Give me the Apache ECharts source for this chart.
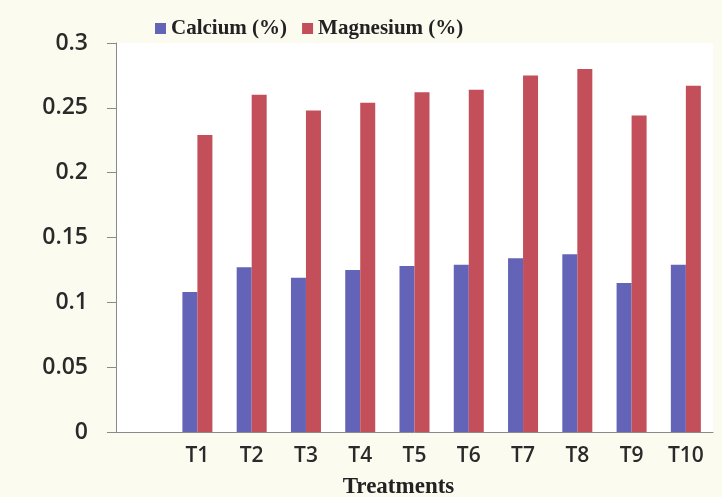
<!DOCTYPE html>
<html>
<head>
<meta charset="utf-8">
<script src="https://cdn.jsdelivr.net/npm/echarts@6/dist/echarts.min.js"></script>
<style>
  html, body { margin: 0; padding: 0; background: #fcfbf0; }
  #chart { width: 722px; height: 497px; }
</style>
</head>
<body>
<div id="chart"></div>
<script>
// Treatment categories (leading blank slot keeps the empty first column)
const categories = ['', 'T1', 'T2', 'T3', 'T4', 'T5', 'T6', 'T7', 'T8', 'T9', 'T10'];
// Nutrient content per treatment
const calcium = [null, 0.108, 0.127, 0.119, 0.125, 0.128, 0.129, 0.134, 0.137, 0.115, 0.129];
const magnesium = [null, 0.229, 0.260, 0.248, 0.254, 0.262, 0.264, 0.275, 0.280, 0.244, 0.267];
const yTicks = [0, 0.05, 0.1, 0.15, 0.2, 0.25, 0.3];

const chart = echarts.init(document.getElementById('chart'));
const sans = '"Open Sans", "DejaVu Sans", sans-serif';
const serif = '"Liberation Serif", "DejaVu Serif", serif';

chart.setOption({
  backgroundColor: '#fcfbf0',
  animation: false,
  legend: {
    top: 13,
    left: 150,
    itemWidth: 11,
    itemHeight: 11,
    itemGap: 15,
    icon: 'rect',
    textStyle: { fontFamily: serif, fontWeight: 'bold', fontSize: 21, color: '#222' },
    data: ['Calcium (%)', 'Magnesium (%)']
  },
  grid: {
    left: 116, right: 9, top: 43, bottom: 65,
    outerBoundsMode: 'none',
    show: true, backgroundColor: '#ffffff', borderWidth: 0
  },
  xAxis: {
    type: 'category',
    data: categories,
    name: 'Treatments',
    nameLocation: 'middle',
    nameGap: 44,
    nameTextStyle: { fontFamily: serif, fontWeight: 'bold', fontSize: 23, color: '#222', padding: [0, 32, 0, 0] },
    axisLine: { lineStyle: { color: '#8a8a8a', width: 1 } },
    axisTick: { show: false },
    axisLabel: { fontFamily: sans, fontWeight: 600, fontSize: 21, color: '#2a2a2a', margin: 14 }
  },
  yAxis: {
    type: 'value',
    min: 0,
    max: 0.3,
    interval: 0.05,
    axisLine: { show: true, lineStyle: { color: '#8a8a8a', width: 1 } },
    axisTick: { show: true, length: 9, lineStyle: { color: '#8a8a8a' } },
    splitLine: { show: false },
    axisLabel: {
      fontFamily: sans, fontWeight: 600, fontSize: 23, color: '#2a2a2a', margin: 28,
      formatter: v => {
        const t = yTicks.find(k => Math.abs(k - v) < 1e-9);
        return t === undefined ? '' : String(t);
      }
    }
  },
  series: [
    {
      name: 'Calcium (%)',
      type: 'bar',
      data: calcium,
      barWidth: 15,
      barGap: '0%',
      itemStyle: { color: '#6363b8' }
    },
    {
      name: 'Magnesium (%)',
      type: 'bar',
      data: magnesium,
      barWidth: 15,
      barGap: '0%',
      itemStyle: { color: '#c24f5a' }
    }
  ]
});
</script>
</body>
</html>
